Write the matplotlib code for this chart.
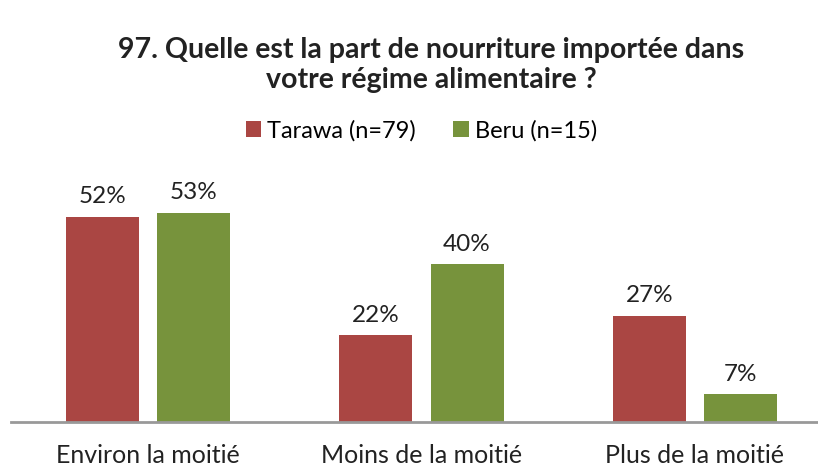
import numpy as np
import matplotlib.pyplot as plt

plt.rcParams['font.family'] = ['Lato', 'DejaVu Sans']

categories = ["Environ la moitié", "Moins de la moitié", "Plus de la moitié"]
tarawa = [52, 22, 27]
beru = [53, 40, 7]
series_names = ["Tarawa (n=79)", "Beru (n=15)"]
title = "97. Quelle est la part de nourriture importée dans\nvotre régime alimentaire ?"

fig = plt.figure(figsize=(8.18, 4.67), dpi=100)
ax = fig.add_axes([11 / 818, 45 / 467, 807 / 818, 236.4 / 467])

x = np.arange(len(categories))
w = 0.267
off = 0.167
colors = ['#AA4643', '#77933C']

b1 = ax.bar(x - off, tarawa, w, color=colors[0], label=series_names[0])
b2 = ax.bar(x + off, beru, w, color=colors[1], label=series_names[1])

for bars, vals in ((b1, tarawa), (b2, beru)):
    for b, v in zip(bars, vals):
        ax.annotate(f"{v}%", (b.get_x() + b.get_width() / 2, v),
                    xytext=(0, 7), textcoords='offset points',
                    ha='center', va='bottom', fontsize=17.5, color='#222222')

ax.set_xlim(-0.5, 2.45)
ax.set_ylim(0, 60)
ax.set_xticks(x)
ax.set_xticklabels(categories, fontsize=18, color='#222222')
ax.tick_params(axis='x', length=0, pad=16)
ax.set_yticks([])
for s in ['top', 'right', 'left']:
    ax.spines[s].set_visible(False)
ax.spines['bottom'].set_color('#999999')
ax.spines['bottom'].set_linewidth(2)

fig.text(0.527, 0.86, title, ha='center', va='center', fontsize=20.5,
         fontweight='bold', color='#222222', linespacing=1.18)

fig.legend(handles=[b1, b2], loc='center', bbox_to_anchor=(0.515, 0.72),
           ncol=2, frameon=False, fontsize=17, handlelength=0.65,
           handleheight=0.65, handletextpad=0.25, columnspacing=1.6)

fig.savefig('out.png', dpi=100)
